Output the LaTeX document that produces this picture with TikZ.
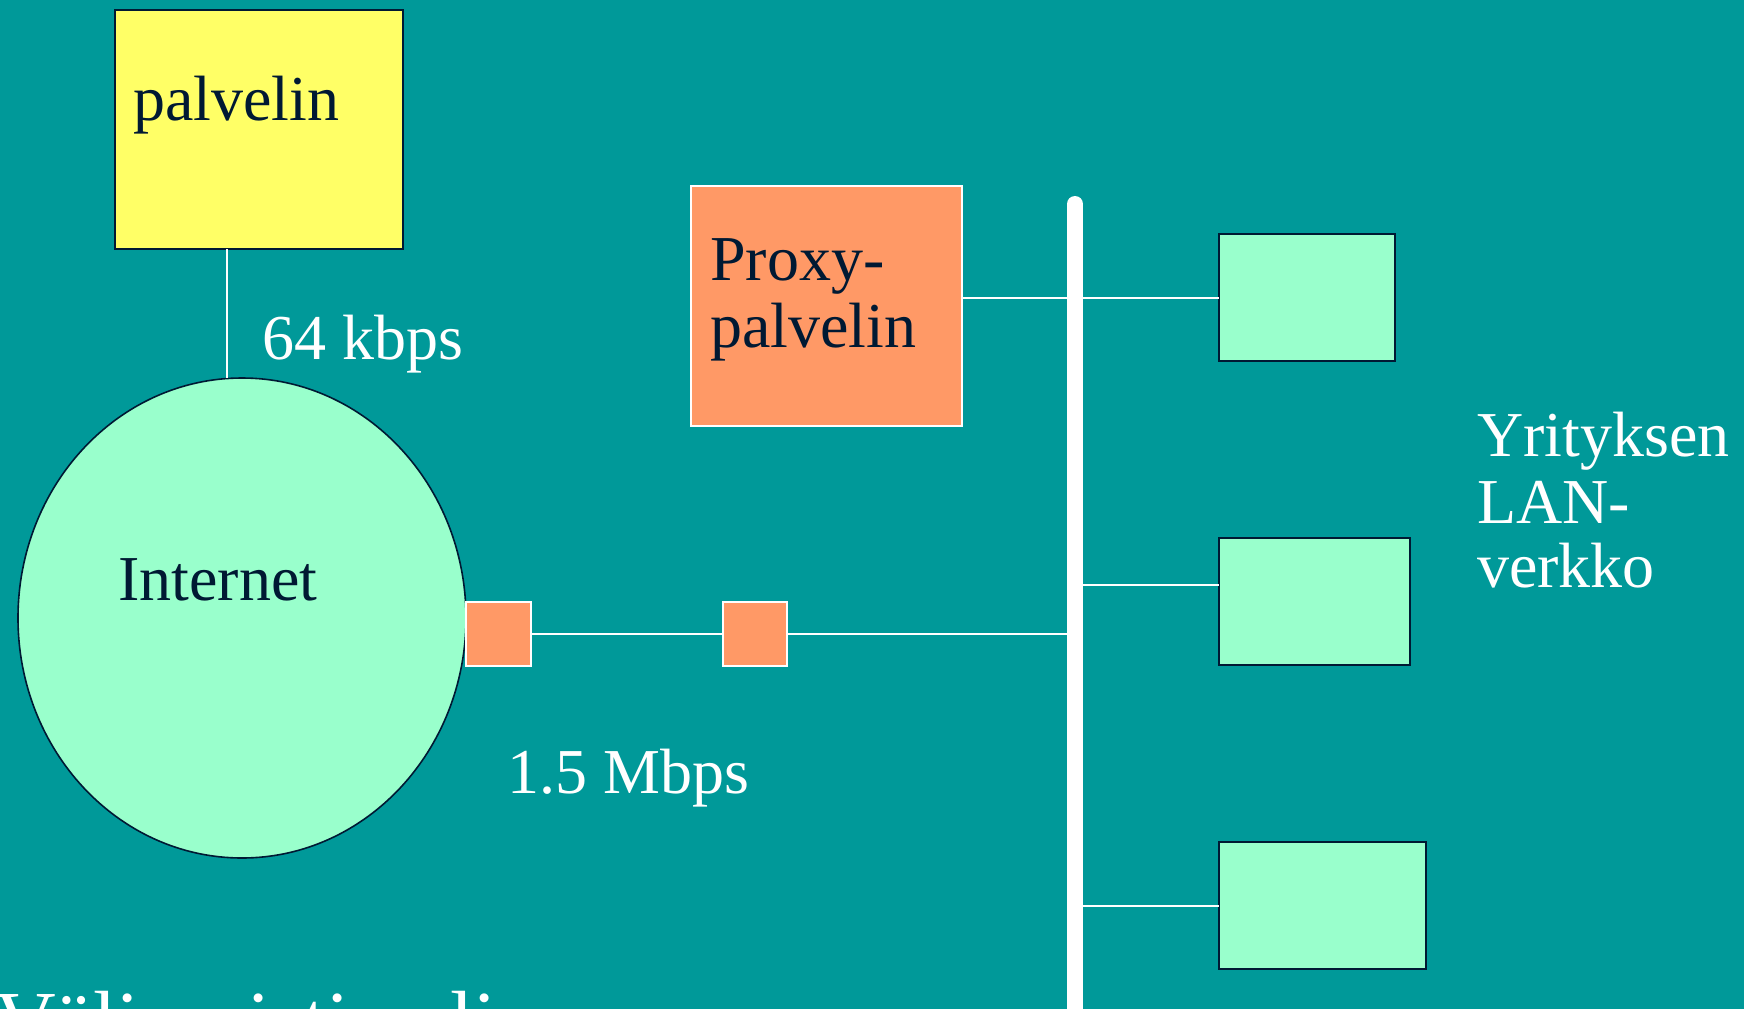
\documentclass[tikz,border=0pt]{standalone}
\usepackage{fontspec}
\setmainfont{Liberation Serif}
\usetikzlibrary{shapes.geometric}
\definecolor{bgteal}{RGB}{0,153,153}
\definecolor{ink}{RGB}{0,25,51}
\definecolor{srvyellow}{RGB}{255,255,102}
\definecolor{mint}{RGB}{153,255,204}
\definecolor{salmon}{RGB}{255,153,102}
\begin{document}
\begin{tikzpicture}[x=1pt,y=-1pt,
  darkbox/.style={rectangle, draw=ink, line width=2pt, inner sep=0pt, outer sep=0pt},
  lightbox/.style={rectangle, draw=white, line width=2pt, inner sep=0pt, outer sep=0pt, fill=salmon},
  inktext/.style={anchor=base west, inner sep=0pt, text=ink, font=\fontsize{64}{77}\selectfont},
  whitetext/.style={anchor=base west, inner sep=0pt, text=white, font=\fontsize{64}{77}\selectfont},
  wire/.style={draw=white, line width=2pt}]
\useasboundingbox (0,0) rectangle (1744,1009);
\clip (0,0) rectangle (1744,1009);
\fill[bgteal] (0,0) rectangle (1744,1009);

% nodes
\node[darkbox, fill=srvyellow, minimum width=288pt, minimum height=239pt] (pal) at (259,129.5) {};
\node[inktext] (paltxt) at (133,120) {palvelin};

\node[ellipse, draw=ink, line width=1.6pt, fill=mint, inner sep=0pt, outer sep=0pt,
      minimum width=448pt, minimum height=480pt] (net) at (242,618) {};
\node[inktext] (nettxt) at (118,600) {Internet};

\node[whitetext] (kbps) at (262,359) {64 kbps};

\node[lightbox, minimum width=65pt, minimum height=64pt] (sqa) at (498.5,634) {};
\node[lightbox, minimum width=64pt, minimum height=64pt] (sqb) at (754.5,634) {};
\node[whitetext] (mbps) at (507,793) {1.5 Mbps};

\node[lightbox, minimum width=271pt, minimum height=240pt] (proxy) at (826.5,306) {};
\node[inktext] (proxytxta) at (710,280) {Proxy-};
\node[inktext] (proxytxtb) at (710,347) {palvelin};

\node[darkbox, fill=mint, minimum width=176pt, minimum height=127pt] (lana) at (1307,297.5) {};
\node[darkbox, fill=mint, minimum width=191pt, minimum height=127pt] (lanb) at (1314.5,601.5) {};
\node[darkbox, fill=mint, minimum width=207pt, minimum height=127pt] (lanc) at (1322.5,905.5) {};

\node[whitetext] (yrtxta) at (1477,456) {Yrityksen};
\node[whitetext] (yrtxtb) at (1477,523) {LAN-};
\node[whitetext] (yrtxtc) at (1477,587) {verkko};

\node[anchor=base west, inner sep=0pt, text=white, font=\fontsize{84}{100}\selectfont] (bottomtxt) at (-5,1049) {Välimuistin eli};

% bus
\coordinate (bustop) at (1075,204);
\coordinate (busbot) at (1075,1040);

% connectors
\draw[wire] ([xshift=-32pt]pal.south) -- ([xshift=-32pt]pal.south |- net.north);
\draw[wire] (sqa.east) -- (sqb.west);
\draw[wire] (sqb.east) -- (sqb.east -| bustop);
\draw[wire] (proxy.east |- lana.west) -- (lana.west);
\draw[wire] ([yshift=16.5pt]lanb.west -| bustop) -- ([yshift=16.5pt]lanb.west);
\draw[wire] (lanc.west -| bustop) -- (lanc.west);

\draw[white, line width=16pt, line cap=round] (bustop) -- (busbot);
\end{tikzpicture}
\end{document}
